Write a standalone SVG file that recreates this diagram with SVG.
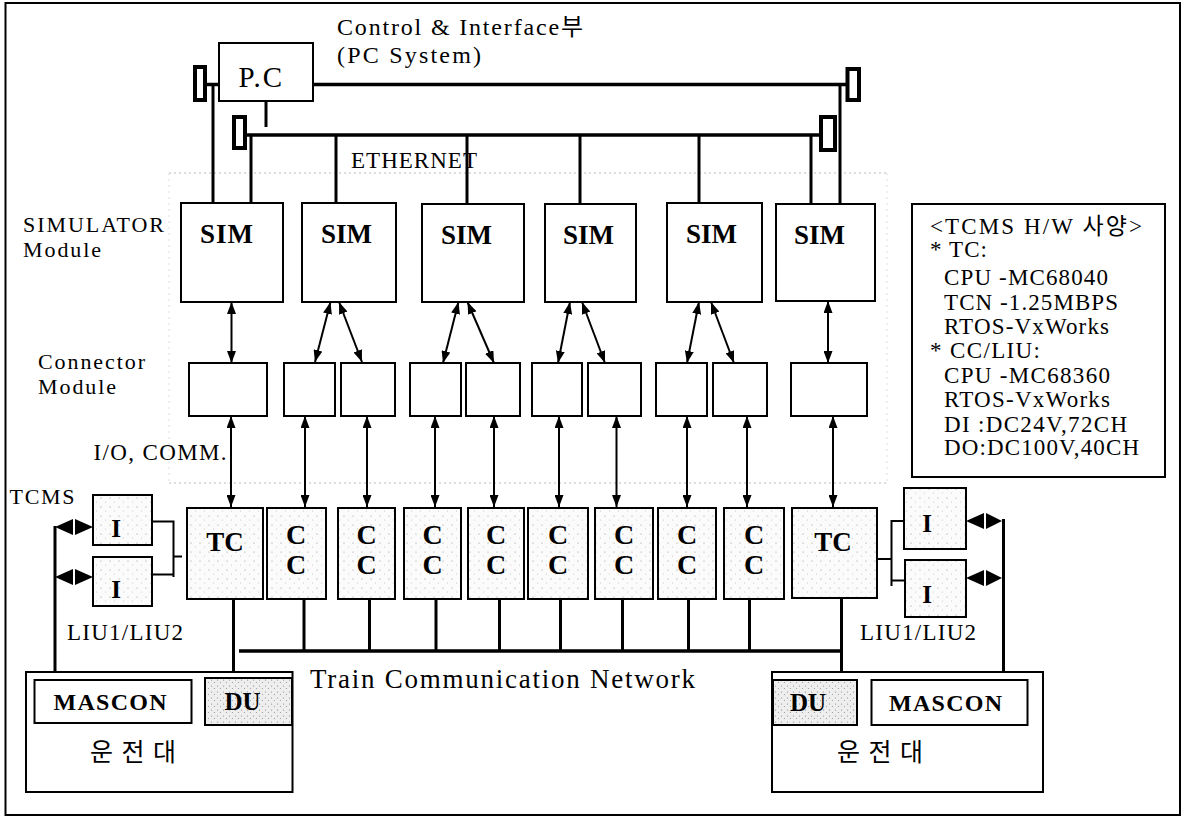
<svg xmlns="http://www.w3.org/2000/svg" width="1188" height="817" viewBox="0 0 1188 817">
<defs>
<style>
.box{fill:#fff;stroke:#000;stroke-width:2}
.shade{fill:url(#stip);stroke:#000;stroke-width:2}
.shadeD{fill:url(#stipD);stroke:#000;stroke-width:2}
.term{fill:#fff;stroke:#000;stroke-width:4}
.bus{stroke:#000;stroke-width:3.5;fill:none}
.ln{stroke:#000;stroke-width:3;fill:none}
.thin{stroke:#000;stroke-width:2;fill:none}
.arr{stroke:#000;stroke-width:2;fill:none;marker-start:url(#ah);marker-end:url(#ah)}
.dot{stroke:#bbb;stroke-width:1;stroke-dasharray:2 3;fill:none}
.dotv{stroke:#ddd;stroke-width:1;stroke-dasharray:2 4;fill:none}
.t{font-family:"Liberation Serif","Noto Sans CJK KR",serif;fill:#000}
.b{font-weight:bold}
.head{fill:#000}
</style>
<marker id="ah" viewBox="0 0 12 9" refX="12" refY="4.5" markerWidth="12" markerHeight="9" markerUnits="userSpaceOnUse" orient="auto-start-reverse">
<path d="M0,0 L12,4.5 L0,9 z" fill="#000"/>
</marker>
<pattern id="stip" width="9" height="9" patternUnits="userSpaceOnUse">
<rect width="9" height="9" fill="#fbfbfb"/>
<circle cx="2" cy="3" r="0.6" fill="#999"/>
<circle cx="6.5" cy="7" r="0.5" fill="#bbb"/>
</pattern>
<pattern id="stipD" width="6" height="6" patternUnits="userSpaceOnUse">
<rect width="6" height="6" fill="#eeeeee"/>
<circle cx="1.5" cy="2" r="0.6" fill="#888"/>
<circle cx="4.5" cy="4.5" r="0.6" fill="#999"/>
</pattern>
</defs>
<rect width="1188" height="817" fill="#fff"/>
<rect x="5.5" y="3" width="1174.5" height="812" fill="none" stroke="#000" stroke-width="2"/>
<line class="dot" x1="169" y1="173" x2="887" y2="173"/>
<line class="dot" x1="169" y1="483" x2="887" y2="483"/>
<line class="dotv" x1="169" y1="173" x2="169" y2="483"/>
<line class="dotv" x1="887" y1="173" x2="887" y2="483"/>

<g id="connectors">
<line class="bus" x1="207" y1="84.5" x2="846" y2="84.5"/>
<line class="ln" x1="213" y1="84.5" x2="213" y2="203"/>
<line class="ln" x1="840" y1="84.5" x2="840" y2="204"/>
<rect class="term" x="195" y="67" width="10" height="33"/>
<rect class="term" x="847.5" y="69" width="11.5" height="31"/>
<line class="ln" x1="266" y1="101" x2="266" y2="127"/>
<line class="bus" x1="247" y1="135" x2="820" y2="135"/>
<rect class="term" x="234" y="117" width="11" height="31"/>
<rect class="term" x="821" y="117" width="14" height="33"/>
<line class="ln" x1="251" y1="135" x2="251" y2="203"/>
<line class="ln" x1="336" y1="135" x2="336" y2="203"/>
<line class="ln" x1="467" y1="135" x2="467" y2="204"/>
<line class="ln" x1="580" y1="135" x2="580" y2="204"/>
<line class="ln" x1="699" y1="135" x2="699" y2="204"/>
<line class="ln" x1="811" y1="135" x2="811" y2="204"/>
<line class="arr" x1="231.5" y1="302" x2="231.5" y2="363"/>
<line class="arr" x1="330.5" y1="302" x2="315" y2="362"/>
<line class="arr" x1="339" y1="302" x2="362" y2="362"/>
<line class="arr" x1="458.5" y1="302" x2="443" y2="363"/>
<line class="arr" x1="467.5" y1="302" x2="494" y2="363"/>
<line class="arr" x1="570" y1="302" x2="558" y2="363"/>
<line class="arr" x1="582" y1="302" x2="605" y2="363"/>
<line class="arr" x1="699" y1="302" x2="687" y2="363"/>
<line class="arr" x1="711" y1="302" x2="734" y2="363"/>
<line class="arr" x1="828" y1="301" x2="828" y2="363"/>
<line class="arr" x1="231" y1="416" x2="231" y2="507"/>
<line class="arr" x1="305" y1="416" x2="305" y2="507"/>
<line class="arr" x1="367" y1="416" x2="367" y2="507"/>
<line class="arr" x1="435" y1="416" x2="435" y2="507"/>
<line class="arr" x1="494" y1="416" x2="494" y2="507"/>
<line class="arr" x1="559" y1="416" x2="559" y2="507"/>
<line class="arr" x1="616.5" y1="416" x2="616.5" y2="507"/>
<line class="arr" x1="687" y1="416" x2="687" y2="507"/>
<line class="arr" x1="747" y1="416" x2="747" y2="507"/>
<line class="arr" x1="833" y1="416" x2="833" y2="507"/>
<line class="bus" x1="239" y1="651" x2="843" y2="651" stroke-width="4"/>
<line class="ln" x1="233.5" y1="599" x2="233.5" y2="672"/>
<line class="ln" x1="841.5" y1="598" x2="841.5" y2="672"/>
<line class="ln" x1="304" y1="599" x2="304" y2="651"/>
<line class="ln" x1="369.5" y1="599" x2="369.5" y2="651"/>
<line class="ln" x1="436" y1="599" x2="436" y2="651"/>
<line class="ln" x1="499.5" y1="599" x2="499.5" y2="651"/>
<line class="ln" x1="560.5" y1="599" x2="560.5" y2="651"/>
<line class="ln" x1="622.5" y1="599" x2="622.5" y2="651"/>
<line class="ln" x1="688.5" y1="599" x2="688.5" y2="651"/>
<line class="ln" x1="749.5" y1="599" x2="749.5" y2="651"/>
<polyline class="thin" points="152,521.5 173.5,521.5 173.5,577"/>
<line class="thin" x1="152" y1="574.5" x2="173.5" y2="574.5"/>
<line class="thin" x1="173.5" y1="556.5" x2="182" y2="556.5"/>
<line class="thin" x1="877" y1="559" x2="891.5" y2="559"/>
<polyline class="thin" points="904,521 891.5,521 891.5,586"/>
<line class="thin" x1="891.5" y1="580.5" x2="905" y2="580.5"/>
<line class="ln" x1="55" y1="526" x2="55" y2="672"/>
<line class="ln" x1="1003.5" y1="519" x2="1003.5" y2="672"/>
<path class="head" d="M55,527 L73,519 L73,535 Z M93,527 L75,519 L75,535 Z"/>
<path class="head" d="M55,577 L73,569 L73,585 Z M93,577 L75,569 L75,585 Z"/>
<path class="head" d="M966,521 L984,513 L984,529 Z M1002,521 L986,513 L986,529 Z"/>
<path class="head" d="M966,578 L984,570 L984,586 Z M1002,578 L986,570 L986,586 Z"/>
</g>

<g id="pc">
<rect class="box" x="219" y="43" width="94" height="58"/>
<text class="t" x="238.5" y="87" font-size="29" textLength="43.5" lengthAdjust="spacing">P.C</text>
</g>

<g id="labels">
<text class="t" x="337" y="35" font-size="24" textLength="246" lengthAdjust="spacing">Control &amp; Interface부</text>
<text class="t" x="337" y="63" font-size="24" textLength="144" lengthAdjust="spacing">(PC System)</text>
<text class="t" x="351" y="168" font-size="23" textLength="126" lengthAdjust="spacing">ETHERNET</text>
<text class="t" x="23" y="232" font-size="22" textLength="141" lengthAdjust="spacing">SIMULATOR</text>
<text class="t" x="23" y="257" font-size="22" textLength="78" lengthAdjust="spacing">Module</text>
<text class="t" x="38" y="369" font-size="22" textLength="107" lengthAdjust="spacing">Connector</text>
<text class="t" x="38" y="394" font-size="22" textLength="78" lengthAdjust="spacing">Module</text>
<text class="t" x="93.5" y="460" font-size="23" textLength="133" lengthAdjust="spacing">I/O, COMM.</text>
<text class="t" x="9.5" y="504" font-size="22" textLength="65" lengthAdjust="spacing">TCMS</text>
<text class="t" x="67" y="640" font-size="23" textLength="116" lengthAdjust="spacing">LIU1/LIU2</text>
<text class="t" x="860" y="640" font-size="23" textLength="116" lengthAdjust="spacing">LIU1/LIU2</text>
<text class="t" x="310" y="688" font-size="27" textLength="385" lengthAdjust="spacing">Train Communication Network</text>
</g>

<g id="sim1"><rect class="box" x="181" y="203" width="102" height="99"/><text class="t b" x="200" y="243" font-size="27" textLength="53" lengthAdjust="spacing">SIM</text></g>
<g id="sim2"><rect class="box" x="302" y="203" width="94" height="99"/><text class="t b" x="321" y="243" font-size="27" textLength="51" lengthAdjust="spacing">SIM</text></g>
<g id="sim3"><rect class="box" x="422" y="204" width="102" height="98"/><text class="t b" x="441" y="244" font-size="27" textLength="51" lengthAdjust="spacing">SIM</text></g>
<g id="sim4"><rect class="box" x="545" y="204" width="91" height="98"/><text class="t b" x="563" y="244" font-size="27" textLength="51" lengthAdjust="spacing">SIM</text></g>
<g id="sim5"><rect class="box" x="667" y="203" width="95" height="99"/><text class="t b" x="686" y="243" font-size="27" textLength="51" lengthAdjust="spacing">SIM</text></g>
<g id="sim6"><rect class="box" x="776" y="204" width="99" height="97"/><text class="t b" x="794" y="244" font-size="27" textLength="51" lengthAdjust="spacing">SIM</text></g>

<g id="con1"><rect class="box" x="189" y="363" width="78" height="53"/></g>
<g id="con2"><rect class="box" x="284" y="363" width="51" height="53"/></g>
<g id="con3"><rect class="box" x="341" y="363" width="54" height="53"/></g>
<g id="con4"><rect class="box" x="410" y="363" width="51" height="53"/></g>
<g id="con5"><rect class="box" x="466" y="363" width="54" height="53"/></g>
<g id="con6"><rect class="box" x="532" y="363" width="50" height="53"/></g>
<g id="con7"><rect class="box" x="588" y="363" width="53" height="53"/></g>
<g id="con8"><rect class="box" x="656" y="363" width="51" height="53"/></g>
<g id="con9"><rect class="box" x="713" y="363" width="54" height="53"/></g>
<g id="con10"><rect class="box" x="791" y="363" width="76" height="53"/></g>

<g id="tc1"><rect class="shade" x="187" y="508" width="76" height="91"/><text class="t b" x="225" y="551" font-size="27" text-anchor="middle">TC</text></g>
<g id="cc1"><rect class="shade" x="267" y="508" width="59" height="91"/><text class="t b" x="296" y="544" font-size="28" text-anchor="middle">C</text><text class="t b" x="296" y="574" font-size="28" text-anchor="middle">C</text></g>
<g id="cc2"><rect class="shade" x="338" y="508" width="57" height="91"/><text class="t b" x="366.5" y="544" font-size="28" text-anchor="middle">C</text><text class="t b" x="366.5" y="574" font-size="28" text-anchor="middle">C</text></g>
<g id="cc3"><rect class="shade" x="404" y="508" width="57" height="91"/><text class="t b" x="432.5" y="544" font-size="28" text-anchor="middle">C</text><text class="t b" x="432.5" y="574" font-size="28" text-anchor="middle">C</text></g>
<g id="cc4"><rect class="shade" x="468" y="508" width="56" height="91"/><text class="t b" x="496" y="544" font-size="28" text-anchor="middle">C</text><text class="t b" x="496" y="574" font-size="28" text-anchor="middle">C</text></g>
<g id="cc5"><rect class="shade" x="528" y="508" width="60" height="91"/><text class="t b" x="558" y="544" font-size="28" text-anchor="middle">C</text><text class="t b" x="558" y="574" font-size="28" text-anchor="middle">C</text></g>
<g id="cc6"><rect class="shade" x="595" y="508" width="58" height="91"/><text class="t b" x="624" y="544" font-size="28" text-anchor="middle">C</text><text class="t b" x="624" y="574" font-size="28" text-anchor="middle">C</text></g>
<g id="cc7"><rect class="shade" x="658" y="508" width="58" height="91"/><text class="t b" x="687" y="544" font-size="28" text-anchor="middle">C</text><text class="t b" x="687" y="574" font-size="28" text-anchor="middle">C</text></g>
<g id="cc8"><rect class="shade" x="724" y="508" width="60" height="91"/><text class="t b" x="754" y="544" font-size="28" text-anchor="middle">C</text><text class="t b" x="754" y="574" font-size="28" text-anchor="middle">C</text></g>
<g id="tc2"><rect class="shade" x="792" y="508" width="85" height="90"/><text class="t b" x="833" y="551" font-size="27" text-anchor="middle">TC</text></g>

<g id="liu-l1"><rect class="shade" x="93" y="495" width="59" height="50"/><text class="t b" x="116" y="537" font-size="25" text-anchor="middle">I</text></g>
<g id="liu-l2"><rect class="shade" x="93" y="557" width="59" height="49"/><text class="t b" x="116" y="598" font-size="25" text-anchor="middle">I</text></g>
<g id="liu-r1"><rect class="shade" x="904" y="488" width="62" height="61"/><text class="t b" x="927" y="532" font-size="25" text-anchor="middle">I</text></g>
<g id="liu-r2"><rect class="shade" x="905" y="560" width="61" height="57"/><text class="t b" x="927" y="603" font-size="25" text-anchor="middle">I</text></g>

<g id="cab-l">
<rect class="box" x="26" y="672" width="266.5" height="120"/>
<rect class="box" x="34.5" y="680" width="157" height="43"/>
<text class="t b" x="53.5" y="710" font-size="24" textLength="113" lengthAdjust="spacing">MASCON</text>
<rect class="shadeD" x="205" y="678" width="87" height="47"/>
<text class="t b" x="242.5" y="710" font-size="25" text-anchor="middle">DU</text>
<text class="t" x="90" y="761" font-size="25" textLength="86" lengthAdjust="spacing">운전대</text>
</g>
<g id="cab-r">
<rect class="box" x="772" y="672" width="271" height="120"/>
<rect class="shadeD" x="773" y="680" width="84" height="45"/>
<text class="t b" x="808" y="711" font-size="25" text-anchor="middle">DU</text>
<rect class="box" x="871.5" y="680" width="156" height="45"/>
<text class="t b" x="889" y="711" font-size="24" textLength="113" lengthAdjust="spacing">MASCON</text>
<text class="t" x="837" y="761" font-size="25" textLength="86" lengthAdjust="spacing">운전대</text>
</g>

<g id="spec">
<rect class="box" x="912" y="204" width="253" height="273"/>
<text class="t" x="930" y="233.5" font-size="23" textLength="212" lengthAdjust="spacing">&lt;TCMS H/W  사양&gt;</text>
<text class="t" x="930" y="257" font-size="23" textLength="57" lengthAdjust="spacing">* TC:</text>
<text class="t" x="944" y="285" font-size="23" textLength="164" lengthAdjust="spacing">CPU -MC68040</text>
<text class="t" x="944" y="310" font-size="23" textLength="174" lengthAdjust="spacing">TCN -1.25MBPS</text>
<text class="t" x="944" y="334" font-size="23" textLength="165" lengthAdjust="spacing">RTOS-VxWorks</text>
<text class="t" x="930" y="358" font-size="23" textLength="110" lengthAdjust="spacing">* CC/LIU:</text>
<text class="t" x="944" y="383" font-size="23" textLength="166" lengthAdjust="spacing">CPU -MC68360</text>
<text class="t" x="944" y="407" font-size="23" textLength="166" lengthAdjust="spacing">RTOS-VxWorks</text>
<text class="t" x="944" y="431.5" font-size="23" textLength="183" lengthAdjust="spacing">DI :DC24V,72CH</text>
<text class="t" x="944" y="455" font-size="23" textLength="195" lengthAdjust="spacing">DO:DC100V,40CH</text>
</g>
</svg>
